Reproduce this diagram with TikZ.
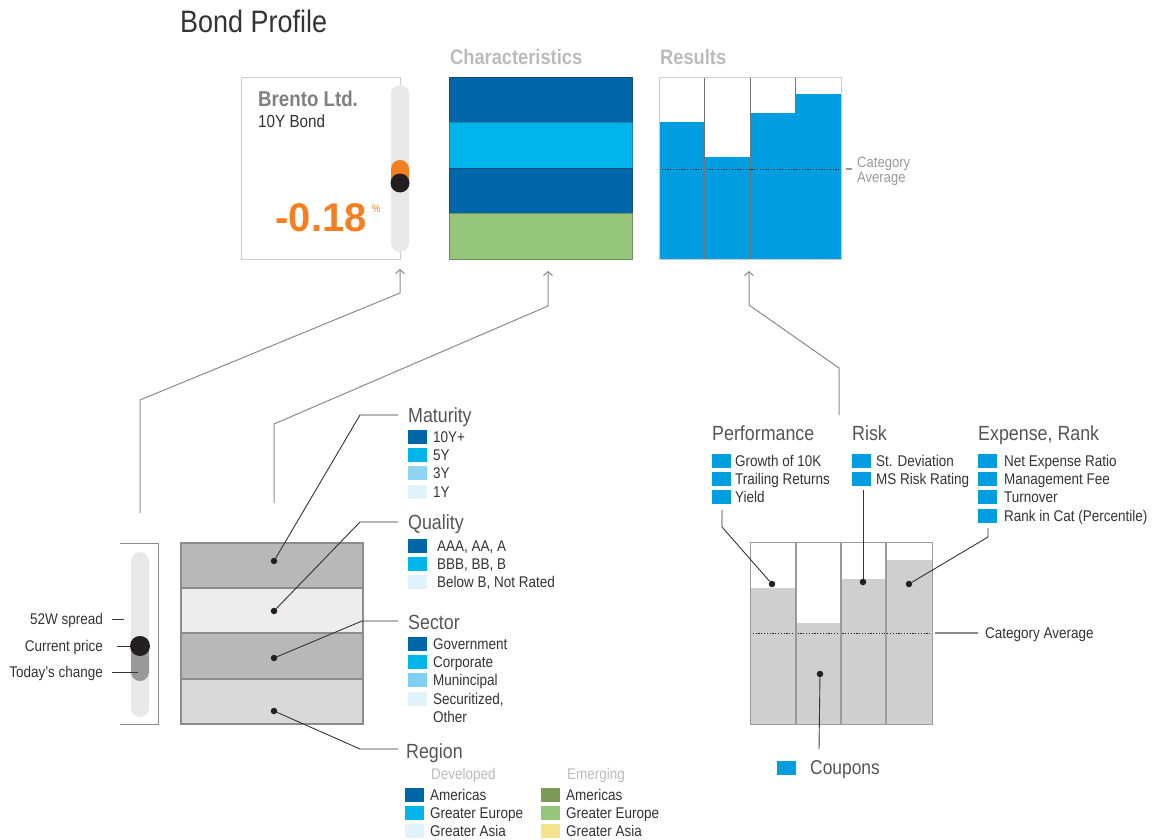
\documentclass[tikz,border=0pt]{standalone}
\usepackage{fontspec}
\setmainfont[FakeStretch=0.87]{Liberation Sans}
\newfontface\numfont[FakeStretch=1.0]{Liberation Sans Bold}
\usetikzlibrary{arrows.meta}
\definecolor{dblue}{HTML}{0066AA}
\definecolor{dbd}{HTML}{1A4E7A}
\definecolor{cblue}{HTML}{00B5EC}
\definecolor{cbd}{HTML}{1F86B0}
\definecolor{lblue}{HTML}{8FD5F2}
\definecolor{mblue}{HTML}{7DD0F0}
\definecolor{pblue}{HTML}{E0F3FB}
\definecolor{rblue}{HTML}{009EE0}
\definecolor{egreen}{HTML}{7A9A56}
\definecolor{lgreen}{HTML}{95C67A}
\definecolor{gbd}{HTML}{6E8F5E}
\definecolor{yel}{HTML}{F3E38A}
\definecolor{orng}{HTML}{F47F20}
\definecolor{txt}{HTML}{333333}
\definecolor{headc}{HTML}{555555}
\definecolor{lgray}{HTML}{BBBBBB}
\definecolor{midgray}{HTML}{999999}
\definecolor{linec}{HTML}{8A8A8A}
\definecolor{boxc}{HTML}{CCCCCC}
\definecolor{brentoc}{HTML}{808080}
\definecolor{knob}{HTML}{231F20}
\definecolor{track}{HTML}{E8E8E8}
\definecolor{darkpart}{HTML}{999999}
\definecolor{bandA}{HTML}{B8B8B8}
\definecolor{bandB}{HTML}{EDEDED}
\definecolor{bandC}{HTML}{D9D9D9}
\definecolor{bandline}{HTML}{8C8C8C}
\definecolor{chartgray}{HTML}{CFCFCF}
\definecolor{chartline}{HTML}{9A9A9A}
\newcommand\fs[1]{\fontsize{#1}{#1}\selectfont}
\newcommand\legit[6]{%
  \node[sq,fill=#4] (#1) at (#2,#3) {};
  \node[txtlbl] (#1t) at (#5,{#3+5.5}) {#6};}
\begin{document}
\begin{tikzpicture}[x=1pt,y=-1pt,
  txtlbl/.style={inner sep=0, anchor=base west, font=\fs{15.5}, text=txt},
  headlbl/.style={inner sep=0, anchor=base west, font=\fs{20.5}, text=headc},
  sq/.style={inner sep=0, anchor=west, minimum width=19pt, minimum height=14pt},
  dotn/.style={circle, fill=knob, inner sep=0, minimum size=6.5pt},
  lead/.style={draw=txt, line width=0.9pt},
  conn/.style={draw=linec, line width=1pt},
  arr/.style={conn, -{Straight Barb[length=4pt,width=9pt,line width=1pt]}},
  knobn/.style={circle, fill=knob, inner sep=0},
]
\useasboundingbox (0,0) rectangle (1164,840);

% ---------- titles
\node[anchor=base west, inner sep=0, font=\fs{31}, text=txt] (title) at (180,33) {Bond Profile};
\node[anchor=base west, inner sep=0, font=\bfseries\fs{21}, text=lgray] (charT) at (450,65) {Characteristics};
\node[anchor=base west, inner sep=0, font=\bfseries\fs{21}, text=lgray] (resT) at (660,65) {Results};

% ---------- Brento box
\node[draw=boxc, line width=1.3pt, fill=white, inner sep=0, minimum width=159pt, minimum height=182pt, anchor=north west] (brento) at (241,77) {};
\fill[track, rounded corners=9pt] (391,85) rectangle (409,252);
\fill[orng, rounded corners=9pt] (391,160) rectangle (409,192);
\node[knobn, minimum size=19pt] (knob1) at (400,183) {};
\node[anchor=base west, inner sep=0, font=\bfseries\fs{21.5}, text=brentoc] (bname) at (258,107) {Brento Ltd.};
\node[anchor=base west, inner sep=0, font=\fs{17.5}, text=txt] (bsub) at (258,128) {10Y Bond};
\node[anchor=base east, inner sep=0, font=\numfont\fs{40}, text=orng] (bval) at (367,231) {-0.18};
\node[anchor=base west, inner sep=0, font=\fs{11}, text=orng] (bpct) at (372,212) {\%};

% ---------- Characteristics box
\draw[fill=dblue, draw=dbd, line width=0.8pt] (449,77) rectangle (632,122);
\draw[fill=cblue, draw=cbd, line width=0.8pt] (449,122) rectangle (632,168);
\draw[fill=dblue, draw=dbd, line width=0.8pt] (449,168) rectangle (632,213);
\draw[fill=lgreen, draw=gbd, line width=0.8pt] (449,213) rectangle (632,259);
\node[inner sep=0, minimum width=183pt, minimum height=182pt, anchor=north west] (chars) at (449,77) {};

% ---------- Results box
\fill[white] (659,77) rectangle (841,259);
\fill[rblue] (659,122) rectangle (704,259);
\fill[rblue] (704,157) rectangle (750,259);
\fill[rblue] (750,113) rectangle (795,259);
\fill[rblue] (795,94) rectangle (841,259);
\draw[dash pattern=on 1.2pt off 1.6pt, line width=1pt, black!85] (659,169) -- (841,169);
\foreach \x in {704,750,795} \draw[black!55, line width=0.8pt] (\x,77) -- (\x,259);
\node[draw=boxc, line width=1.3pt, inner sep=0, minimum width=182pt, minimum height=182pt, anchor=north west] (results) at (659,77) {};
\coordinate (cadA) at (846,169);
\coordinate (cadB) at (852,169);
\draw[midgray, line width=1.3pt] (cadA) -- (cadB);
\node[anchor=base west, inner sep=0, font=\fs{15}, text=midgray] (catT1) at (857,167) {Category};
\node[anchor=base west, inner sep=0, font=\fs{15}, text=midgray] (catT2) at (857,182.5) {Average};

% ---------- connectors up
\coordinate (a1tip) at (400,269);
\coordinate (a1c1) at (400,293);
\coordinate (a1c2) at (140,400);
\coordinate (a1s) at (140,513);
\draw[arr] (a1s) -- (a1c2) -- (a1c1) -- (a1tip);
\coordinate (a2tip) at (548,271);
\coordinate (a2c1) at (548,306);
\coordinate (a2c2) at (274,424);
\coordinate (a2s) at (274,503);
\draw[arr] (a2s) -- (a2c2) -- (a2c1) -- (a2tip);
\coordinate (a3tip) at (749,271);
\coordinate (a3c1) at (749,305);
\coordinate (a3c2) at (839,368);
\coordinate (a3s) at (839,415);
\draw[arr] (a3s) -- (a3c2) -- (a3c1) -- (a3tip);

% ---------- lower-left slider
\coordinate (brA) at (120,543);
\coordinate (brB) at (158,543);
\coordinate (brC) at (158,724);
\coordinate (brD) at (120,724);
\draw[conn] (brA) -- (brB) -- (brC) -- (brD);
\fill[track, rounded corners=9pt] (131,552) rectangle (149,717);
\fill[darkpart, rounded corners=9pt] (131,636) rectangle (149,681);
\node[knobn, minimum size=20pt] (knob2) at (140,646) {};
\node[anchor=base east, inner sep=0, font=\fs{15.5}, text=txt] (l52) at (103,624.5) {52W spread};
\node[anchor=base east, inner sep=0, font=\fs{15.5}, text=txt] (lcur) at (103,651.5) {Current price};
\node[anchor=base east, inner sep=0, font=\fs{15.5}, text=txt] (ltod) at (103,677.5) {Today’s change};
\coordinate (s52a) at (112,619);
\coordinate (s52b) at (124,619);
\coordinate (scura) at (117,646);
\coordinate (stoda) at (112,672);
\coordinate (stodb) at (138,672);
\draw[lead] (s52a) -- (s52b);
\draw[lead] (scura) -- (knob2);
\draw[lead] (stoda) -- (stodb);

% ---------- lower-left bands
\draw[fill=bandA, draw=bandline, line width=1.2pt] (181,543) rectangle (363,588);
\draw[fill=bandB, draw=bandline, line width=1.2pt] (181,588) rectangle (363,633);
\draw[fill=bandA, draw=bandline, line width=1.2pt] (181,633) rectangle (363,679);
\draw[fill=bandC, draw=bandline, line width=1.2pt] (181,679) rectangle (363,724);
\node[dotn] (dm) at (274,561) {};
\node[dotn] (dq) at (274,611) {};
\node[dotn] (ds) at (274,658) {};
\node[dotn] (dr) at (274,711) {};
\coordinate (bm1) at (360,415);
\coordinate (bm2) at (398,415);
\coordinate (bq1) at (360,522);
\coordinate (bq2) at (398,522);
\coordinate (bs1) at (362,621);
\coordinate (bs2) at (398,621);
\coordinate (br1) at (360,749);
\coordinate (br2) at (398,749);
\draw[lead] (dm) -- (bm1) -- (bm2);
\draw[lead] (dq) -- (bq1) -- (bq2);
\draw[lead] (ds) -- (bs1) -- (bs2);
\draw[lead] (dr) -- (br1) -- (br2);

% ---------- legends left
\node[headlbl] (hmat) at (408,422.3) {Maturity};
\legit{m1}{408}{437}{dblue}{433}{10Y+}
\legit{m2}{408}{455}{cblue}{433}{5Y}
\legit{m3}{408}{473}{lblue}{433}{3Y}
\legit{m4}{408}{492}{pblue}{433}{1Y}
\node[headlbl] (hqual) at (408,529.3) {Quality};
\legit{q1}{408}{546}{dblue}{437}{AAA, AA, A}
\legit{q2}{408}{564}{cblue}{437}{BBB, BB, B}
\legit{q3}{408}{582}{pblue}{437}{Below B, Not Rated}
\node[headlbl] (hsec) at (408,629.3) {Sector};
\legit{s1}{408}{644}{dblue}{433}{Government}
\legit{s2}{408}{662}{cblue}{433}{Corporate}
\legit{s3}{408}{680}{mblue}{433}{Munincipal}
\legit{s4}{408}{699}{pblue}{433}{Securitized,}
\node[txtlbl] (s5t) at (433,722.5) {Other};
\node[headlbl] (hreg) at (406,758.3) {Region};
\node[txtlbl, text=lgray] (hdev) at (431,779.5) {Developed};
\node[txtlbl, text=lgray] (hemg) at (567,779.5) {Emerging};
\legit{r1}{405}{795}{dblue}{430}{Americas}
\legit{r2}{405}{813}{cblue}{430}{Greater Europe}
\legit{r3}{405}{831}{pblue}{430}{Greater Asia}
\legit{e1}{541}{795}{egreen}{566}{Americas}
\legit{e2}{541}{813}{lgreen}{566}{Greater Europe}
\legit{e3}{541}{831}{yel}{566}{Greater Asia}

% ---------- legends right
\node[headlbl] (hperf) at (712,440.3) {Performance};
\legit{p1}{712}{461}{rblue}{735}{Growth of 10K}
\legit{p2}{712}{479}{rblue}{735}{Trailing Returns}
\legit{p3}{712}{497}{rblue}{735}{Yield}
\node[headlbl] (hrisk) at (852,440.3) {Risk};
\legit{k1}{852}{461}{rblue}{876}{St. Deviation}
\legit{k2}{852}{479}{rblue}{876}{MS Risk Rating}
\node[headlbl] (hexp) at (978,440.3) {Expense, Rank};
\legit{x1}{978}{461}{rblue}{1004}{Net Expense Ratio}
\legit{x2}{978}{479}{rblue}{1004}{Management Fee}
\legit{x3}{978}{497}{rblue}{1004}{Turnover}
\legit{x4}{978}{516}{rblue}{1004}{Rank in Cat (Percentile)}

% ---------- right chart
\fill[white] (750,542) rectangle (932,724);
\fill[chartgray] (750,588) rectangle (796,724);
\fill[chartgray] (796,623) rectangle (841,724);
\fill[chartgray] (841,579) rectangle (886,724);
\fill[chartgray] (886,560) rectangle (932,724);
\draw[dash pattern=on 1.2pt off 1.6pt, line width=1pt, black!85] (750,633) -- (932,633);
\foreach \x in {796,841,886} \draw[chartline, line width=2pt] (\x,542) -- (\x,724);
\node[draw=chartline, line width=1.2pt, inner sep=0, minimum width=182pt, minimum height=182pt, anchor=north west] (chart) at (750,542) {};
\coordinate (caA) at (935,633);
\coordinate (caB) at (978,633);
\draw[conn, line width=1.2pt] (caA) -- (caB);
\node[txtlbl] (catavg) at (985,638.5) {Category Average};

\node[dotn] (dy) at (772,584) {};
\node[dotn] (dk) at (863,582) {};
\node[dotn] (dx) at (909,584) {};
\node[dotn] (dc) at (820,674) {};
\coordinate (yl1) at (722,510);
\coordinate (yl2) at (722,527);
\coordinate (kl1) at (863,490);
\coordinate (xl1) at (988,528);
\coordinate (xl2) at (988,537);
\coordinate (cl1) at (819,749);
\draw[lead] (yl1) -- (yl2) -- (dy);
\draw[lead] (kl1) -- (dk);
\draw[lead] (xl1) -- (xl2) -- (dx);
\draw[lead] (dc) -- (cl1);
\node[inner sep=0, anchor=north west, minimum width=19pt, minimum height=14pt, fill=rblue] (coupsq) at (777,761) {};
\node[anchor=base west, inner sep=0, font=\fs{20}, text=headc] (coup) at (810,774.5) {Coupons};
\end{tikzpicture}
\end{document}
